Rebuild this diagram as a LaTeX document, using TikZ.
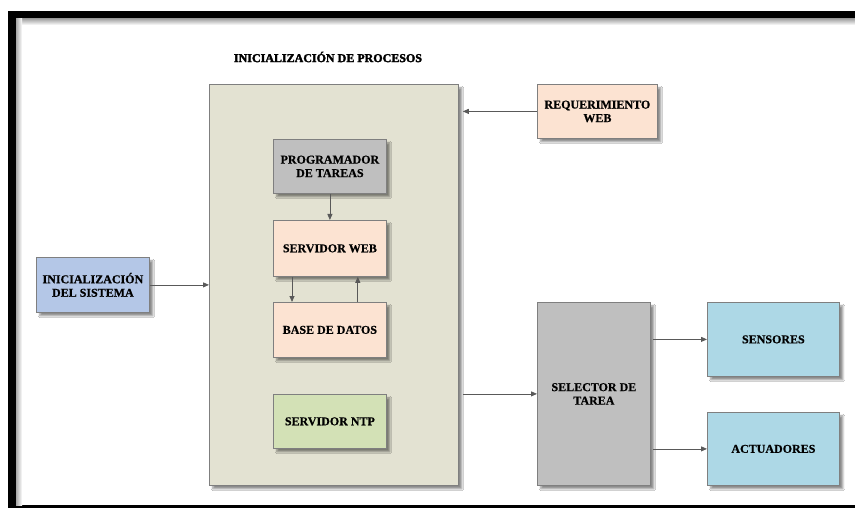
\documentclass[tikz,border=0pt]{standalone}
\usepackage{fontspec}
\setmainfont{Liberation Serif}
\newfontfamily\heavyfont[FakeBold=2.5]{Liberation Serif Bold}
\newfontfamily\boxfont[FakeBold=0.6]{Liberation Serif Bold}
\usetikzlibrary{arrows.meta,shadows.blur,calc}
\definecolor{bigfill}{HTML}{E3E2D2}
\definecolor{peach}{HTML}{FCE3D2}
\definecolor{greyfill}{HTML}{BFBFBF}
\definecolor{greenfill}{HTML}{D3E1B6}
\definecolor{bluefill}{HTML}{B4C7E7}
\definecolor{lbfill}{HTML}{ADD8E6}
\definecolor{edge}{HTML}{7F7F7F}
\definecolor{arr}{HTML}{595959}
\tikzset{
  blk/.style={draw=edge, line width=0.8pt, anchor=north west, inner sep=2pt,
    align=center, font=\fontsize{12}{13.5}\selectfont\boxfont, text=black,
    blur shadow={shadow xshift=3.5pt, shadow yshift=-3.5pt, shadow blur steps=6, shadow opacity=45}},
  conn/.style={draw=arr, line width=0.8pt, -{Triangle[length=6pt,width=5pt]}},
}
\begin{document}
\begin{tikzpicture}[x=1pt,y=-1pt]
\useasboundingbox (0,0) rectangle (855,508);
\fill[white] (0,0) rectangle (855,508);
% frame
\fill[black] (8,11) rectangle (855,19);
\fill[black] (8,11) rectangle (16,508);
\fill[black] (8,505) rectangle (855,508);
\shade[top color=black!35, bottom color=white] (16,19) rectangle (855,25);
\shade[left color=black!35, right color=white] (16,19) rectangle (22,505);
% title
\node[font=\fontsize{12}{13}\selectfont\heavyfont, text=black] (title) at (328,57) {INICIALIZACIÓN DE PROCESOS};
% main container
\node[blk, fill=bigfill, minimum width=249pt, minimum height=401pt] (big) at (209,84) {};
\node[blk, fill=greyfill, minimum width=113pt, minimum height=54pt] (prog) at (273,139) {PROGRAMADOR\\DE TAREAS};
\node[blk, fill=peach, minimum width=113pt, minimum height=56pt] (web) at (273,220) {SERVIDOR WEB};
\node[blk, fill=peach, minimum width=113pt, minimum height=55pt] (base) at (273,302) {BASE DE DATOS};
\node[blk, fill=greenfill, minimum width=113pt, minimum height=54pt] (ntp) at (273,394) {SERVIDOR NTP};
% outside blocks
\node[blk, fill=peach, minimum width=120pt, minimum height=54pt] (req) at (537,84) {REQUERIMIENTO\\WEB};
\node[blk, fill=bluefill, minimum width=113pt, minimum height=55pt] (init) at (36,257) {INICIALIZACIÓN\\DEL SISTEMA};
\node[blk, fill=greyfill, minimum width=113pt, minimum height=183pt] (sel) at (537,302) {SELECTOR DE\\TAREA};
\node[blk, fill=lbfill, minimum width=132pt, minimum height=74pt] (sens) at (707,302) {SENSORES};
\node[blk, fill=lbfill, minimum width=132pt, minimum height=73pt] (act) at (707,412) {ACTUADORES};
% connectors
\draw[conn, shorten >=4pt] (req.west) -- (big.east |- req.west);
\draw[conn] (prog.south) -- (web.north);
\draw[conn] ([xshift=19pt]web.south west) -- ([xshift=19pt]base.north west);
\draw[conn] ([xshift=-29pt]base.north east) -- ([xshift=-29pt]web.south east);
\draw[conn] (init.east) -- (big.west);
\draw[conn, shorten <=4pt] (big.east |- sel.west) -- (sel.west);
\draw[conn, shorten <=2pt] (sel.east |- sens.west) -- (sens.west);
\draw[conn, shorten <=2pt] (sel.east |- act.west) -- (act.west);
\end{tikzpicture}
\end{document}
